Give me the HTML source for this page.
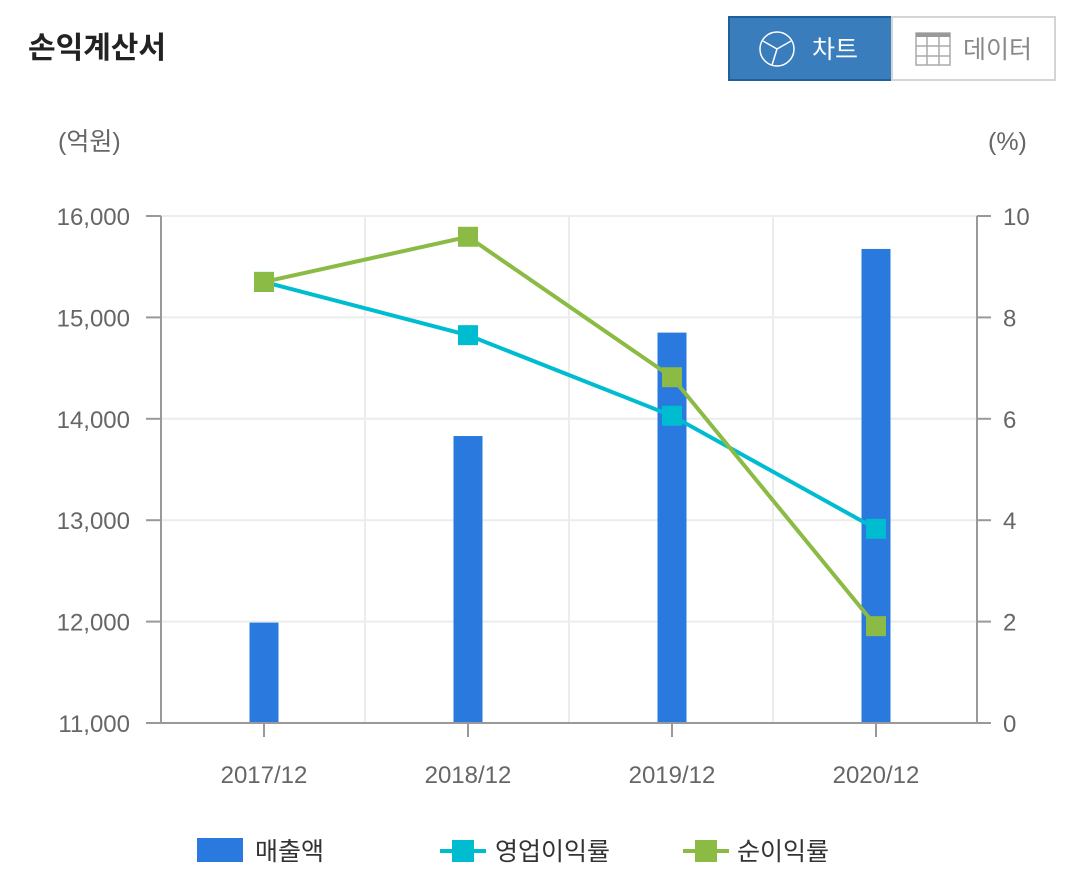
<!DOCTYPE html>
<html><head><meta charset="utf-8"><style>
body{margin:0;background:#fff;width:1080px;height:887px;overflow:hidden;font-family:"Liberation Sans","Noto Sans CJK KR",sans-serif}
svg text{font-family:"Liberation Sans","Noto Sans CJK KR",sans-serif}
</style></head><body>
<svg width="1080" height="887">
<text x="28" y="58" font-size="30" font-weight="bold" fill="#222">손익계산서</text>
<g>
<rect x="729" y="17" width="163" height="63" fill="#3a7dbd" stroke="#1f5f9c" stroke-width="2"/>
<circle cx="777" cy="49" r="17" fill="none" stroke="#fff" stroke-width="1.5"/>
<path d="M777 49 L763 41 M777 49 L791 41 M777 49 L772 65" stroke="#fff" stroke-width="1.5" fill="none"/>
<text x="812" y="58" font-size="25" fill="#fff">차트</text></g>
<g>
<rect x="892" y="17" width="163" height="63" fill="#fff" stroke="#d4d4d4" stroke-width="2"/>
<rect x="916" y="33" width="34" height="32" fill="none" stroke="#aaa" stroke-width="1.5"/>
<rect x="916" y="33" width="34" height="4" fill="#999"/>
<path d="M927 37V65M939 37V65M916 46H950M916 56H950" stroke="#aaa" stroke-width="1.5"/>
<text x="963" y="58" font-size="25" fill="#888">데이터</text></g>
<text x="58" y="150" font-size="25" fill="#666">(억원)</text>
<text x="988" y="150" font-size="25" fill="#666">(%)</text>
<g id="plot"></g>
<g>
<g><rect x="197" y="838" width="46" height="24" fill="#2979df"/><text x="255" y="860" font-size="25" fill="#333">매출액</text></g>
<g><line x1="440" y1="851" x2="486" y2="851" stroke="#00bcd0" stroke-width="4"/><rect x="452" y="840" width="22" height="22" fill="#00bcd0"/><text x="495" y="860" font-size="25" fill="#333">영업이익률</text></g>
<g><line x1="683" y1="851" x2="729" y2="851" stroke="#8bbb44" stroke-width="4"/><rect x="695" y="840" width="22" height="22" fill="#8bbb44"/><text x="737" y="860" font-size="25" fill="#333">순이익률</text></g>
</g>
</svg>
<script>
const categories=["2017/12","2018/12","2019/12","2020/12"];
const sales=[11990,13830,14850,15675];
const opMargin=[8.7,7.65,6.06,3.83];
const netMargin=[8.7,9.59,6.82,1.91];
const leftTicks=[11000,12000,13000,14000,15000,16000];
const rightTicks=[0,2,4,6,8,10];
const L=161,R=977,T=216,B=723;
const yL=v=>B-(v-11000)/5000*(B-T);
const yR=v=>B-v/10*(B-T);
const bw=(R-L)/categories.length;
const xC=i=>L+bw*(i+0.5)+1;
const NS="http://www.w3.org/2000/svg";
const g=document.getElementById('plot');
function mk(t,a,p){const e=document.createElementNS(NS,t);for(const k in a)e.setAttribute(k,a[k]);(p||g).appendChild(e);return e;}
leftTicks.forEach((v,i)=>{
 const gl=mk('line',{x1:L,x2:R,y1:yL(v),y2:yL(v),stroke:'#ececec','stroke-width':2});
 
 
 mk('line',{x1:146,x2:L,y1:yL(v),y2:yL(v),stroke:'#999','stroke-width':2});
 const t=mk('text',{x:130,y:yL(v)+9,'text-anchor':'end','font-size':24,fill:'#666'});t.textContent=v.toLocaleString('en-US');
 
 
});
rightTicks.forEach(v=>{
 mk('line',{x1:R,x2:R+14,y1:yR(v),y2:yR(v),stroke:'#999','stroke-width':2});
 const t=mk('text',{x:1003,y:yR(v)+9,'font-size':24,fill:'#666'});t.textContent=v;
 
 
});
for(let i=1;i<categories.length;i++){mk('line',{x1:L+bw*i,x2:L+bw*i,y1:T,y2:B,stroke:'#ececec','stroke-width':2});}
categories.forEach((c,i)=>{
 const b=mk('rect',{x:xC(i)-14.5,y:yL(sales[i]),width:29,height:B-yL(sales[i]),fill:'#2979df'});
 
 
 mk('line',{x1:xC(i),x2:xC(i),y1:B,y2:B+14,stroke:'#999','stroke-width':2});
 const t=mk('text',{x:xC(i),y:783,'text-anchor':'middle','font-size':24,fill:'#666'});t.textContent=c;
 
 
});
mk('line',{x1:L,x2:L,y1:T,y2:B+1,stroke:'#999','stroke-width':2});
mk('line',{x1:R,x2:R,y1:T,y2:B+1,stroke:'#999','stroke-width':2});
mk('line',{x1:L,x2:R,y1:B,y2:B,stroke:'#999','stroke-width':2});
function series(vals,color,name){
 const p=mk('polyline',{points:vals.map((v,i)=>xC(i)+','+yR(v)).join(' '),fill:'none',stroke:color,'stroke-width':4});
 
 
 vals.forEach((v,i)=>{const m=mk('rect',{x:xC(i)-10,y:yR(v)-10,width:20,height:20,fill:color});
 
 });
}
series(opMargin,'#00bcd0','operating-margin');
series(netMargin,'#8bbb44','net-margin');
</script>
</body></html>
